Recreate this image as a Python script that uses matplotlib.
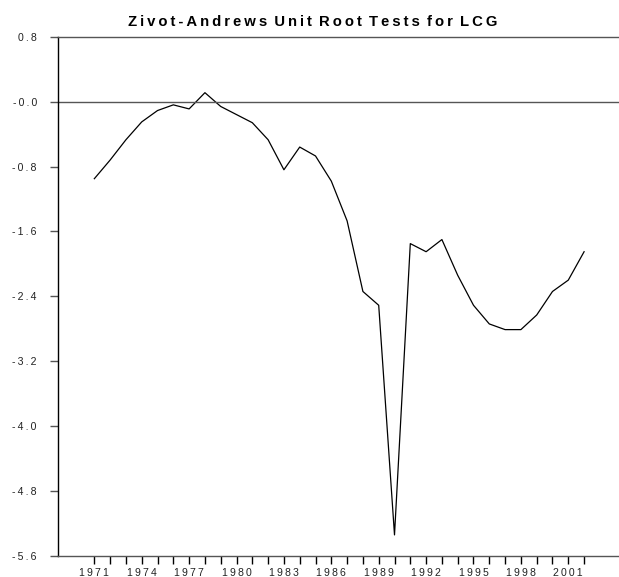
import numpy as np
import matplotlib
matplotlib.use("Agg")
import matplotlib.pyplot as plt

plt.rcParams['font.family'] = ['Liberation Sans', 'DejaVu Sans']

# Zivot-Andrews break statistic per candidate year
years = list(range(1971, 2003))
za_stat = [-0.95, -0.72, -0.47, -0.25, -0.11, -0.04, -0.09, 0.11, -0.06, -0.16,
           -0.26, -0.47, -0.84, -0.56, -0.67, -0.98, -1.47, -2.34, -2.51, -5.34,
           -1.75, -1.85, -1.70, -2.14, -2.51, -2.74, -2.81, -2.81, -2.63, -2.34,
           -2.20, -1.85]
ytick_vals = [0.8, 0.0, -0.8, -1.6, -2.4, -3.2, -4.0, -4.8, -5.6]
xtick_labels = list(range(1971, 2002, 3))
title = "Zivot-Andrews Unit Root Tests for LCG"

THIN = "\u2009"


def spaced(s):
    # letter-spaced look of the original output
    return THIN.join(s)


fig = plt.figure(figsize=(6.19, 5.77), dpi=100)
ax = fig.add_axes([0.0937, 0.0364, 0.9063, 0.9000])

ax.plot(years, za_stat, color="black", lw=0.9)
ax.axhline(0.0, color="#555555", lw=1.0)

ax.set_xlim(1968.70, 2004.21)
ax.set_ylim(-5.6, 0.8)

ax.set_yticks(ytick_vals)
ylab = []
for v in ytick_vals:
    s = "-0.0" if v == 0 else f"{v:.1f}"
    ylab.append(spaced(s))
ax.set_yticklabels(ylab, fontsize=7.6, color="#222222")

ax.set_xticks(years)
ax.set_xticklabels([spaced(str(y)) if y in xtick_labels else "" for y in years],
                   fontsize=7.6, color="#222222")

ax.tick_params(axis="y", direction="out", length=5.8, width=1.0, pad=9.5,
               color="#555555")
ax.tick_params(axis="x", direction="out", length=5.8, width=1.0, pad=3)

ax.spines["right"].set_visible(False)
ax.spines["top"].set_color("#555555")
ax.spines["bottom"].set_color("#555555")
for sp in ax.spines.values():
    sp.set_linewidth(1.0)

fig.text(0.505, 1 - 22.0 / 577,
         (" " + THIN).join(spaced(w) for w in title.split()),
         ha="center", va="center", fontsize=10.7, fontweight="bold")

fig.savefig("out.png", dpi=100)
